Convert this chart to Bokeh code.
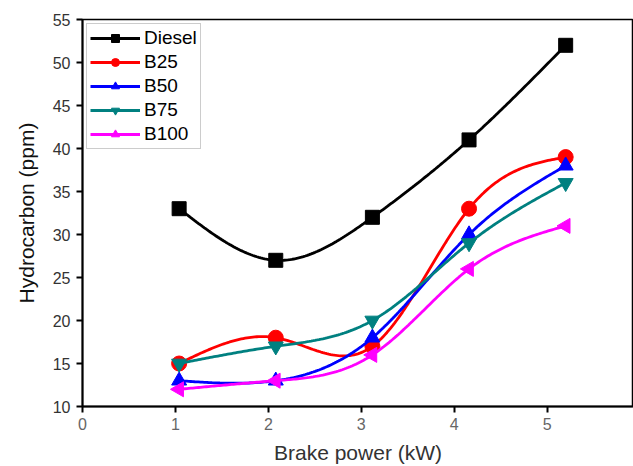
import numpy as np
from bokeh.plotting import figure
from bokeh.models import Range1d, FixedTicker, Legend, LegendItem
from bokeh.embed import file_html
from bokeh.resources import INLINE

# ---- data ----
brake_power = [1.04, 2.08, 3.12, 4.16, 5.2]
diesel = [33, 27, 32, 41, 52]
b25 = [15, 18, 17, 33, 39]
b50 = [13, 13, 18, 30, 38]
b75 = [15, 17, 20, 29, 36]
b100 = [12, 13, 16, 26, 31]
series_names = ["Diesel", "B25", "B50", "B75", "B100"]
y_ticks = [10, 15, 20, 25, 30, 35, 40, 45, 50, 55]
x_ticks = [0, 1, 2, 3, 4, 5, 6]


def natural_spline(x, y, n=200):
    x = np.asarray(x, float)
    y = np.asarray(y, float)
    m = len(x)
    h = np.diff(x)
    A = np.zeros((m, m))
    r = np.zeros(m)
    A[0, 0] = 1
    A[-1, -1] = 1
    for i in range(1, m - 1):
        A[i, i - 1] = h[i - 1]
        A[i, i] = 2 * (h[i - 1] + h[i])
        A[i, i + 1] = h[i]
        r[i] = 6 * ((y[i + 1] - y[i]) / h[i] - (y[i] - y[i - 1]) / h[i - 1])
    M = np.linalg.solve(A, r)
    xs = np.linspace(x[0], x[-1], n)
    ys = np.empty_like(xs)
    for k, xv in enumerate(xs):
        i = min(np.searchsorted(x, xv, side="right") - 1, m - 2)
        i = max(i, 0)
        t1 = x[i + 1] - xv
        t0 = xv - x[i]
        ys[k] = (M[i] * t1 ** 3 / (6 * h[i]) + M[i + 1] * t0 ** 3 / (6 * h[i])
                 + (y[i] / h[i] - M[i] * h[i] / 6) * t1
                 + (y[i + 1] / h[i] - M[i + 1] * h[i] / 6) * t0)
    return xs, ys


p = figure(width=633, height=466, output_backend="svg", toolbar_location=None,
           x_range=Range1d(0, 5.93), y_range=Range1d(10, 55),
           min_border_left=82, min_border_right=0, min_border_top=19,
           min_border_bottom=58)
p.grid.visible = False
p.background_fill_color = "white"
p.outline_line_color = "black"
p.outline_line_width = 1.5

for ax in (p.xaxis[0], p.yaxis[0]):
    ax.axis_line_width = 2
    ax.axis_line_color = "black"
    ax.major_tick_line_width = 2
    ax.major_tick_line_color = "black"
    ax.major_tick_out = 6
    ax.major_tick_in = 0
    ax.minor_tick_line_color = None
    ax.major_label_text_font = "Liberation Sans"
    ax.major_label_text_font_size = "16px"
    ax.axis_label_text_font = "Liberation Sans"
    ax.axis_label_text_font_size = "21px"
    ax.axis_label_text_font_style = "normal"

p.xaxis.ticker = FixedTicker(ticks=x_ticks)
p.yaxis.ticker = FixedTicker(ticks=y_ticks)
p.xaxis.major_label_text_color = "#666666"
p.yaxis.major_label_text_color = "#333333"
p.xaxis.axis_label = "Brake power (kW)"
p.yaxis.axis_label = "Hydrocarbon (ppm)"
p.xaxis.axis_label_text_color = "#333333"
p.yaxis.axis_label_text_color = "#111111"
p.xaxis.major_label_standoff = 5
p.yaxis.major_label_standoff = 6
p.xaxis.axis_label_standoff = 8
p.yaxis.axis_label_standoff = 12

data = [diesel, b25, b50, b75, b100]
colors = ["black", "#ff0000", "#0000ff", "#008080", "#ff00ff"]
markers = ["square", "circle", "triangle", "inverted_triangle", "triangle"]
angles = [0, 0, 0, 0, np.pi / 2]
sizes = [14, 15, 15, 15, 15]

items = []
for name, ys, c, mk, ang, sz in zip(series_names, data, colors, markers, angles, sizes):
    sx, sy = natural_spline(brake_power, ys)
    ln = p.line(sx, sy, line_color=c, line_width=2.8)
    sc = p.scatter(brake_power, ys, marker=mk, size=sz, angle=ang,
                   fill_color=c, line_color=c)
    items.append(LegendItem(label=name, renderers=[ln, sc]))

legend = Legend(items=items, location="top_left", margin=4)
legend.label_text_font = "Liberation Sans"
legend.label_text_font_size = "19px"
legend.label_text_color = "black"
legend.glyph_width = 50
legend.glyph_height = 20
legend.label_height = 20
legend.spacing = 2
legend.padding = 3
legend.label_standoff = 4
legend.border_line_color = "#999999"
legend.border_line_width = 1.5
legend.background_fill_alpha = 1
p.add_layout(legend, "center")

open("out.html", "w").write(file_html(p, INLINE))
